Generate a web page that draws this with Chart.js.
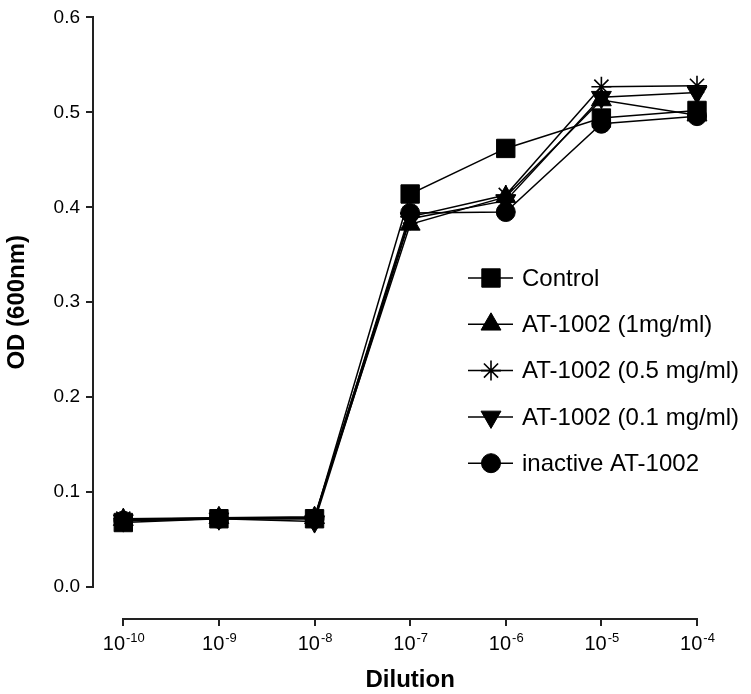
<!DOCTYPE html>
<html>
<head>
<meta charset="utf-8">
<script src="https://cdn.jsdelivr.net/npm/chart.js@4.4.1/dist/chart.umd.min.js"></script>
<style>
html,body{margin:0;padding:0;background:#ffffff;}
#wrap{width:751px;height:694px;position:relative;}
canvas{display:block;}
</style>
</head>
<body>
<div id="wrap"><canvas id="c" width="751" height="694"></canvas></div>
<script>
// ---- data (x = log10 of dilution) ----
const exponents = [-10, -9, -8, -7, -6, -5, -4];
const seriesNames = ['Control', 'AT-1002 (1mg/ml)', 'AT-1002 (0.5 mg/ml)', 'AT-1002 (0.1 mg/ml)', 'inactive AT-1002'];
const controlOD   = [0.068, 0.072, 0.072, 0.414, 0.462, 0.494, 0.502];
const at1mgOD     = [0.071, 0.073, 0.073, 0.382, 0.411, 0.513, 0.497];
const at05mgOD    = [0.072, 0.073, 0.074, 0.390, 0.413, 0.527, 0.528];
const at01mgOD    = [0.070, 0.072, 0.069, 0.388, 0.407, 0.516, 0.521];
const inactiveOD  = [0.070, 0.072, 0.072, 0.394, 0.395, 0.488, 0.496];
const yTickValues = [0.0, 0.1, 0.2, 0.3, 0.4, 0.5, 0.6];
const xTickBase = '10';
const xTitle = 'Dilution';
const yTitle = 'OD (600nm)';

const FONT = '"Liberation Sans", Arial, Helvetica, sans-serif';
const INK = '#000000';
const AXIS = '#222222';

const seriesValues = [controlOD, at1mgOD, at05mgOD, at01mgOD, inactiveOD];
const markerStyles = [
  {pointStyle: 'rect', radius: 13, rotation: 0},
  {pointStyle: 'triangle', radius: 11.5, rotation: 0},
  {pointStyle: 'star', radius: 10, rotation: 0},
  {pointStyle: 'triangle', radius: 11.5, rotation: 180},
  {pointStyle: 'circle', radius: 9.5, rotation: 0}
];

const datasets = seriesNames.map((name, s) => ({
  label: name,
  data: exponents.map((x, i) => ({x: x, y: seriesValues[s][i]})),
  showLine: true,
  borderColor: INK,
  backgroundColor: INK,
  borderWidth: 1.5,
  tension: 0,
  pointStyle: markerStyles[s].pointStyle,
  pointRadius: markerStyles[s].radius,
  pointRotation: markerStyles[s].rotation,
  pointBackgroundColor: INK,
  pointBorderColor: INK,
  pointBorderWidth: markerStyles[s].pointStyle === 'star' ? 1.6 : 1,
  clip: false
}));

function drawMarker(ctx, st, x, y) {
  const opts = {pointStyle: st.pointStyle, radius: st.radius, rotation: st.rotation, borderWidth: st.pointStyle === 'star' ? 1.6 : 1};
  ctx.save();
  ctx.fillStyle = INK;
  ctx.strokeStyle = INK;
  ctx.lineWidth = opts.borderWidth;
  if (Chart.helpers && Chart.helpers.drawPoint) {
    Chart.helpers.drawPoint(ctx, opts, x, y);
  }
  ctx.restore();
}

const decorPlugin = {
  id: 'decor',
  afterDraw(chart) {
    const ctx = chart.ctx;
    const xs = chart.scales.x, ys = chart.scales.y;
    const ca = chart.chartArea;
    ctx.save();
    // axis lines (offset style, spanning first to last tick)
    ctx.strokeStyle = AXIS;
    ctx.lineWidth = 2;
    ctx.lineCap = 'butt';
    const yTop = ys.getPixelForValue(yTickValues[yTickValues.length - 1]);
    const yBot = ys.getPixelForValue(yTickValues[0]);
    ctx.beginPath();
    ctx.moveTo(ca.left, Math.round(yTop) - 1);
    ctx.lineTo(ca.left, Math.round(yBot) + 1);
    ctx.stroke();
    const xL = xs.getPixelForValue(exponents[0]);
    const xR = xs.getPixelForValue(exponents[exponents.length - 1]);
    ctx.beginPath();
    ctx.moveTo(Math.round(xL) - 1, ca.bottom);
    ctx.lineTo(Math.round(xR) + 1, ca.bottom);
    ctx.stroke();

    // x tick labels: 10 with superscript exponent
    ctx.fillStyle = INK;
    ctx.textBaseline = 'alphabetic';
    ctx.textAlign = 'left';
    const baseFont = '20px ' + FONT;
    const expFont = '13px ' + FONT;
    exponents.forEach(e => {
      const px = xs.getPixelForValue(e);
      const expText = String(e);
      ctx.font = baseFont;
      const wb = ctx.measureText(xTickBase).width;
      ctx.font = expFont;
      const we = ctx.measureText(expText).width;
      const start = px - (wb + we) / 2;
      ctx.font = baseFont;
      ctx.fillText(xTickBase, start, 650);
      ctx.font = expFont;
      ctx.fillText(expText, start + wb + 1, 642);
    });

    // axis titles
    ctx.font = 'bold 24px ' + FONT;
    ctx.textAlign = 'center';
    ctx.textBaseline = 'middle';
    ctx.fillText(xTitle, (xL + xR) / 2, 680);
    ctx.save();
    ctx.translate(17, (yTop + yBot) / 2);
    ctx.rotate(-Math.PI / 2);
    ctx.fillText(yTitle, 0, 0);
    ctx.restore();

    // legend
    const legX1 = 468, legX2 = 513, legMX = 491, legTX = 522;
    const legY0 = 278, legDY = 46.3;
    seriesNames.forEach((name, s) => {
      const y = legY0 + s * legDY;
      ctx.strokeStyle = INK;
      ctx.lineWidth = 1.5;
      ctx.beginPath();
      ctx.moveTo(legX1, y);
      ctx.lineTo(legX2, y);
      ctx.stroke();
      drawMarker(ctx, markerStyles[s], legMX, y);
      ctx.fillStyle = INK;
      ctx.font = '24px ' + FONT;
      ctx.textAlign = 'left';
      ctx.textBaseline = 'middle';
      ctx.fillText(name, legTX, y + 1);
    });
    ctx.restore();
  }
};

new Chart(document.getElementById('c').getContext('2d'), {
  type: 'line',
  data: {datasets: datasets},
  options: {
    responsive: false,
    devicePixelRatio: 1,
    animation: false,
    layout: {padding: {top: 15, right: 54, bottom: 0, left: 0}},
    plugins: {legend: {display: false}, tooltip: {enabled: false}, title: {display: false}},
    scales: {
      x: {
        type: 'linear',
        min: -10.317,
        max: -4,
        afterBuildTicks: s => { s.ticks = exponents.map(v => ({value: v})); },
        afterFit: s => { s.height = 75; },
        border: {display: false},
        grid: {drawOnChartArea: false, drawTicks: true, tickLength: 7, color: AXIS, lineWidth: 2},
        ticks: {display: false}
      },
      y: {
        type: 'linear',
        min: -0.0336,
        max: 0.6,
        afterBuildTicks: s => { s.ticks = yTickValues.map(v => ({value: v})); },
        afterFit: s => { s.width = 93; },
        border: {display: false},
        grid: {drawOnChartArea: false, drawTicks: true, tickLength: 7, color: AXIS, lineWidth: 2},
        ticks: {
          color: INK,
          padding: 6,
          font: {family: FONT, size: 19},
          callback: v => Number(v).toFixed(1)
        }
      }
    }
  },
  plugins: [decorPlugin]
});
</script>
</body>
</html>
